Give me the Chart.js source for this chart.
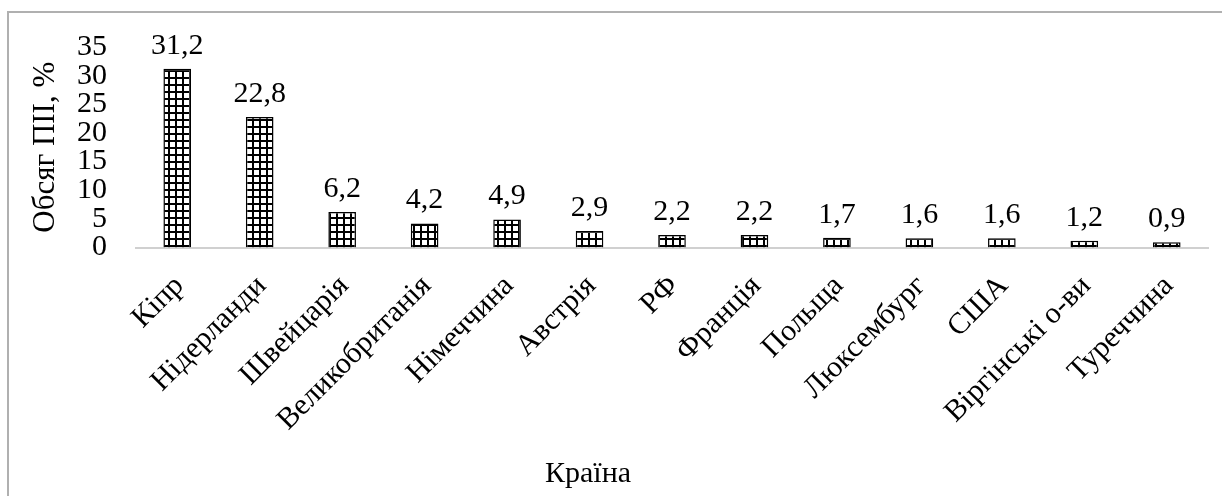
<!DOCTYPE html>
<html>
<head>
<meta charset="utf-8">
<script src="https://cdn.jsdelivr.net/npm/chart.js@4"></script>
<style>
  html, body { margin: 0; padding: 0; background: #fff; }
  #wrap { width: 1222px; height: 496px; position: relative; overflow: hidden; }
</style>
</head>
<body>
<div id="wrap"><canvas id="c" width="1222" height="496"></canvas></div>
<script>
// Частка країн в обсязі прямих іноземних інвестицій, %
const countries = ['Кіпр', 'Нідерланди', 'Швейцарія', 'Великобританія', 'Німеччина', 'Австрія', 'РФ',
  'Франція', 'Польща', 'Люксембург', 'США', 'Віргінські о-ви', 'Туреччина'];
const shares = [31.2, 22.8, 6.2, 4.2, 4.9, 2.9, 2.2, 2.2, 1.7, 1.6, 1.6, 1.2, 0.9];
const yMin = 0;
const yMax = 35;
const yStep = 5;
const yTitle = 'Обсяг ПІІ, %';
const xTitle = 'Країна';

const FONT = '"Liberation Serif", "Times New Roman", serif';

// Cross-hatch fill for the bars: white cells with black grid lines
function gridPattern() {
  const p = document.createElement('canvas');
  p.width = 7; p.height = 7;
  const g = p.getContext('2d');
  g.fillStyle = '#fff';
  g.fillRect(0, 0, 7, 7);
  g.fillStyle = '#000';
  g.fillRect(0, 0, 7, 2);
  g.fillRect(0, 0, 2, 7);
  return g.createPattern(p, 'repeat');
}

const fmt = v => v.toFixed(1).replace('.', ',');

// Frame, x title and value labels above the bars
const decorations = {
  id: 'decorations',
  afterDraw(chart) {
    const ctx = chart.ctx;
    ctx.save();
    ctx.strokeStyle = '#b0b0b0';
    ctx.lineWidth = 2;
    ctx.beginPath();
    ctx.moveTo(8, 520);
    ctx.lineTo(8, 12);
    ctx.lineTo(1230, 12);
    ctx.stroke();

    ctx.fillStyle = '#000';
    ctx.font = '30px ' + FONT;
    ctx.textAlign = 'center';
    ctx.textBaseline = 'alphabetic';
    const meta = chart.getDatasetMeta(0);
    meta.data.forEach((bar, i) => {
      ctx.fillText(fmt(shares[i]), bar.x, bar.y - 15);
    });

    ctx.fillText(xTitle, 588, 482);
    ctx.restore();
  }
};

new Chart(document.getElementById('c'), {
  type: 'bar',
  data: {
    labels: countries,
    datasets: [{
      data: shares,
      backgroundColor: gridPattern(),
      borderColor: '#000',
      borderWidth: 1.5,
      barPercentage: 1,
      categoryPercentage: 0.335
    }]
  },
  plugins: [decorations],
  options: {
    responsive: false,
    animation: false,
    devicePixelRatio: 1,
    layout: { padding: { left: 0, top: 43, right: 14, bottom: 0 } },
    plugins: { legend: { display: false }, tooltip: { enabled: false } },
    scales: {
      x: {
        afterFit: s => { s.height = 496 - 247.5; },
        grid: { display: false, drawTicks: false },
        border: { display: true, color: '#d0d0d0', width: 2 },
        ticks: {
          autoSkip: false,
          minRotation: 45,
          maxRotation: 45,
          padding: 21,
          labelOffset: 2,
          color: '#000',
          font: { family: FONT, size: 30 }
        }
      },
      y: {
        min: yMin,
        max: yMax,
        afterFit: s => { s.width = 136; },
        grid: { display: false, drawTicks: false },
        border: { display: false },
        ticks: {
          stepSize: yStep,
          autoSkip: false,
          padding: 29,
          color: '#000',
          font: { family: FONT, size: 30 }
        },
        title: {
          display: true,
          text: yTitle,
          color: '#000',
          padding: { top: 27, bottom: 0 },
          font: { family: FONT, size: 31 }
        }
      }
    }
  }
});
</script>
</body>
</html>
